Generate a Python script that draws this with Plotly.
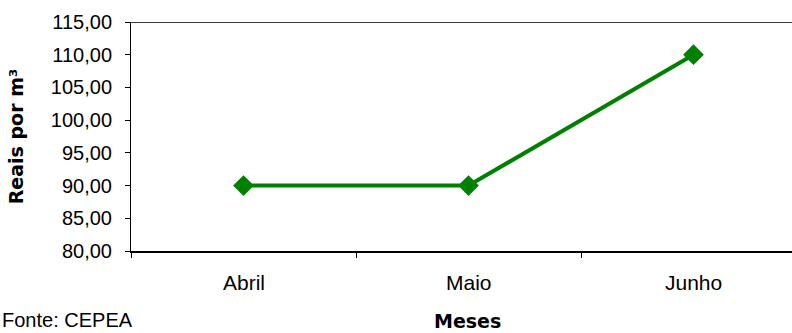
import plotly.graph_objects as go

# Monthly price (R$ per cubic metre)
meses = ["Abril", "Maio", "Junho"]
precos = [90.0, 90.0, 110.0]

y_min, y_max, y_step = 80, 115, 5

W, H = 792, 333
L, R, T, B = 131, 0, 22, 82
plot_w = W - L - R
plot_h = H - B - T
cat_px = 225  # pixel width of one category slot
x_right = -0.5 + plot_w / cat_px

fig = go.Figure()
fig.add_trace(go.Scatter(
    x=list(range(len(meses))), y=precos,
    mode="lines+markers",
    line=dict(color="#008000", width=4),
    marker=dict(symbol="diamond", size=16, color="#008000"),
    showlegend=False,
    cliponaxis=False,
))

axis_font = dict(family="Liberation Sans, Arial, sans-serif", size=20, color="#000000")
cat_font = dict(family="Liberation Sans, Arial, sans-serif", size=21, color="#000000")

fig.update_layout(
    width=W, height=H,
    margin=dict(l=L, r=R, t=T, b=B, pad=0),
    paper_bgcolor="white", plot_bgcolor="white",
    separators=",.",
    xaxis=dict(
        range=[-0.5, x_right],
        tickmode="array",
        tickvals=[-0.5, 0.5, 1.5, 2.5],
        ticktext=["", "", "", ""],
        ticks="outside", ticklen=5, tickcolor="#000000", tickwidth=1,
        showline=True, linecolor="#000000", linewidth=1.5,
        showgrid=False, zeroline=False,
    ),
    yaxis=dict(
        range=[y_min, y_max],
        tickmode="linear", tick0=y_min, dtick=y_step,
        tickformat=".2f",
        ticks="outside", ticklen=5, tickcolor="#000000", tickwidth=1,
        ticklabelstandoff=9,
        showline=True, linecolor="#000000", linewidth=1,
        showgrid=False, zeroline=False,
        tickfont=axis_font,
        title=dict(text="Reais por m³", standoff=22,
                   font=dict(family="DejaVu Sans, sans-serif", size=19, color="#000000", weight="bold")),
    ),
)

# category labels centred in their slots
for i, m in enumerate(meses):
    fig.add_annotation(x=i, y=0, xref="x", yref="paper", text=m, showarrow=False,
                       xanchor="center", yanchor="top", yshift=-18, font=cat_font)

# top border of the plot area
fig.add_shape(type="line", xref="paper", yref="y", x0=0, x1=1, y0=y_max, y1=y_max,
              line=dict(color="#3a3a3a", width=2))

fig.add_annotation(x=(467 - L) / plot_w, y=-(321 - (H - B)) / plot_h, xref="paper", yref="paper",
                   text="Meses", showarrow=False, xanchor="center", yanchor="middle",
                   font=dict(family="DejaVu Sans, sans-serif", size=19, color="#000000", weight="bold"))

fig.add_annotation(x=(0 - L) / plot_w, y=-(333 - (H - B)) / plot_h, xref="paper", yref="paper",
                   text="Fonte: CEPEA", showarrow=False, xanchor="left", yanchor="bottom",
                   font=axis_font)

fig.write_html("out.html")
